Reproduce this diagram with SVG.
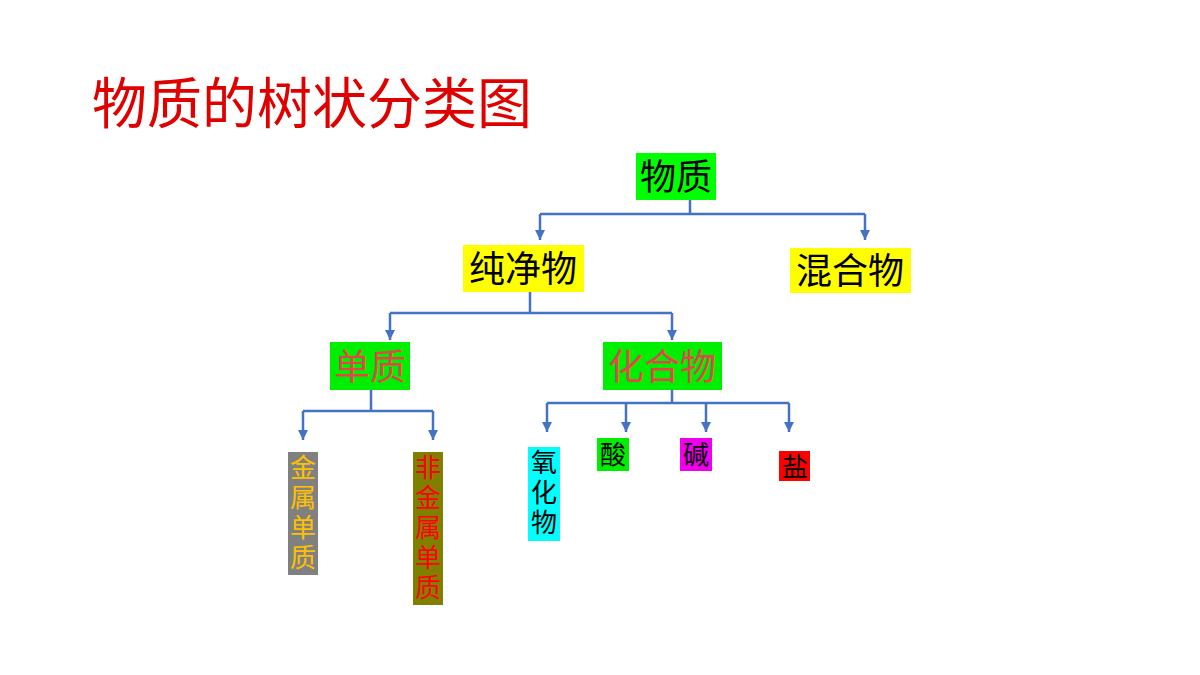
<svg xmlns="http://www.w3.org/2000/svg" width="1200" height="675" viewBox="0 0 1200 675">
<style>
text{font-family:"Noto Sans CJK SC","Liberation Sans",sans-serif;}
.b{font-size:36px;text-anchor:middle}
.s{font-size:26px;text-anchor:middle}
.c{stroke:#4472c4;stroke-width:2.5;fill:none}
</style>
<defs><marker id="a" viewBox="0 0 10 10" refX="10" refY="5" markerWidth="4" markerHeight="4" orient="auto"><path d="M0,0L10,5L0,10z" fill="#4472c4"/></marker></defs>
<rect width="1200" height="675" fill="#fff"/>
<text x="92" y="123" font-size="55" fill="#e00000">物质的树状分类图</text>
<g id="connectors">
<path class="c" d="M690,200V214M540,214H865"/>
<path class="c" d="M540,214V240" marker-end="url(#a)"/><path class="c" d="M865,214V240" marker-end="url(#a)"/>
<path class="c" d="M530,292V313M390,313H672"/>
<path class="c" d="M390,313V340" marker-end="url(#a)"/><path class="c" d="M672,313V340" marker-end="url(#a)"/>
<path class="c" d="M371,390V411M303,411H433"/>
<path class="c" d="M303,411V440" marker-end="url(#a)"/><path class="c" d="M433,411V440" marker-end="url(#a)"/>
<path class="c" d="M672,390V403M547,403H789"/>
<path class="c" d="M547,403V432" marker-end="url(#a)"/><path class="c" d="M626,403V432" marker-end="url(#a)"/><path class="c" d="M706,403V432" marker-end="url(#a)"/><path class="c" d="M789,403V432" marker-end="url(#a)"/>
</g>
<g id="n1"><rect x="636" y="153" width="80" height="47" fill="#00ff00"/><text class="b" x="676" y="190">物质</text></g>
<g id="n2"><rect x="463" y="245" width="121" height="47" fill="#ffff00"/><text class="b" x="523" y="282">纯净物</text></g>
<g id="n3"><rect x="790" y="248" width="121" height="45" fill="#ffff00"/><text class="b" x="850" y="284">混合物</text></g>
<g id="n4"><rect x="330" y="342" width="80" height="48" fill="#00ee00"/><text class="b" x="370" y="380" fill="#e04848">单质</text></g>
<g id="n5"><rect x="603" y="342" width="119" height="48" fill="#00ee00"/><text class="b" x="662" y="380" fill="#e04848">化合物</text></g>
<g id="n6"><rect x="288" y="452" width="30" height="123" fill="#808080"/>
<text class="s" fill="#ffc000" x="303"><tspan x="303" y="477">金</tspan><tspan x="303" y="507">属</tspan><tspan x="303" y="537">单</tspan><tspan x="303" y="567">质</tspan></text></g>
<g id="n7"><rect x="413" y="452" width="30" height="153" fill="#808000"/>
<text class="s" fill="#ff0000" x="428"><tspan x="428" y="477">非</tspan><tspan x="428" y="507">金</tspan><tspan x="428" y="537">属</tspan><tspan x="428" y="567">单</tspan><tspan x="428" y="597">质</tspan></text></g>
<g id="n8"><rect x="528" y="447" width="32" height="94" fill="#00ffff"/>
<text class="s" x="544"><tspan x="544" y="472">氧</tspan><tspan x="544" y="502">化</tspan><tspan x="544" y="532">物</tspan></text></g>
<g id="n9"><rect x="597" y="438" width="32" height="33" fill="#00ee00"/><text class="s" x="613" y="464">酸</text></g>
<g id="n10"><rect x="680" y="438" width="32" height="33" fill="#ee00ee"/><text class="s" x="696" y="464">碱</text></g>
<g id="n11"><rect x="779" y="451" width="31" height="30" fill="#ff0000"/><text class="s" x="795" y="476">盐</text></g>
</svg>
